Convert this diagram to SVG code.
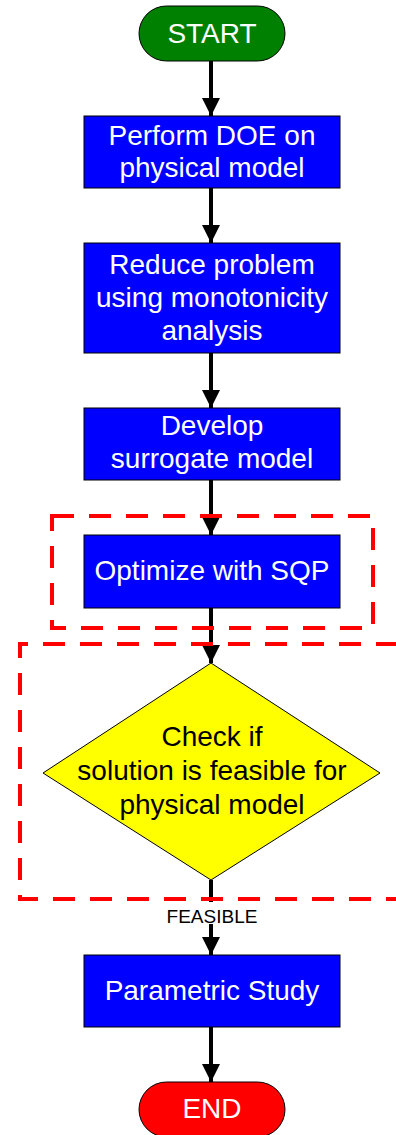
<svg xmlns="http://www.w3.org/2000/svg" width="396" height="1135" viewBox="0 0 396 1135">
  <style>
    .box { fill: #0000ff; stroke: #000; stroke-width: 1; }
    .wt { fill: #fff; font-family: "Liberation Sans", Arial, sans-serif; font-size: 28px; text-anchor: middle; }
    .bt { fill: #000; font-family: "Liberation Sans", Arial, sans-serif; font-size: 28px; text-anchor: middle; }
    .edge { stroke: #000; stroke-width: 4; fill: none; marker-end: url(#arrow); }
    .zone { fill: none; stroke: #ff0000; stroke-width: 4; stroke-dasharray: 22 15; }
  </style>
  <defs>
    <marker id="arrow" viewBox="0 0 18 18" refX="18" refY="9" markerWidth="18" markerHeight="18" markerUnits="userSpaceOnUse" orient="auto">
      <path d="M0,0 L18,9 L0,18 Z" fill="#000"/>
    </marker>
  </defs>

  <!-- connectors -->
  <g id="connectors">
    <line class="edge" x1="211" y1="61" x2="211" y2="116"/>
    <line class="edge" x1="211" y1="188" x2="211" y2="243"/>
    <line class="edge" x1="211" y1="353" x2="211" y2="408"/>
    <line class="edge" x1="211" y1="480" x2="211" y2="535"/>
    <line class="edge" x1="211" y1="608" x2="211" y2="663"/>
    <line class="edge" x1="211" y1="880" x2="211" y2="955"/>
    <line class="edge" x1="211" y1="1027" x2="211" y2="1082"/>
  </g>

  <g id="start">
    <rect x="139" y="6" width="146" height="55" rx="27.5" fill="#008000" stroke="#000" stroke-width="1"/>
    <text class="wt" x="212" y="43">START</text>
  </g>

  <g id="doe">
    <rect class="box" x="84" y="116" width="256" height="72"/>
    <text class="wt" x="212" y="145">Perform DOE on</text>
    <text class="wt" x="212" y="177">physical model</text>
  </g>

  <g id="reduce">
    <rect class="box" x="84" y="243" width="256" height="110"/>
    <text class="wt" x="212" y="274">Reduce problem</text>
    <text class="wt" x="212" y="307">using monotonicity</text>
    <text class="wt" x="212" y="340">analysis</text>
  </g>

  <g id="surrogate">
    <rect class="box" x="84" y="408" width="256" height="72"/>
    <text class="wt" x="212" y="435">Develop</text>
    <text class="wt" x="212" y="468">surrogate model</text>
  </g>

  <g id="optimize">
    <rect class="box" x="84" y="535" width="256" height="73"/>
    <text class="wt" x="212" y="580">Optimize with SQP</text>
  </g>

  <g id="check">
    <polygon points="211,663 380,773 211,880 43,773" fill="#ffff00" stroke="#000" stroke-width="1"/>
    <text class="bt" x="212" y="746">Check if</text>
    <text class="bt" x="212" y="780">solution is feasible for</text>
    <text class="bt" x="212" y="814">physical model</text>
  </g>

  <g id="feasible-label">
    <rect x="160" y="902" width="104" height="22" fill="#fff"/>
    <text x="212" y="923" font-family="Liberation Sans, Arial, sans-serif" font-size="19" text-anchor="middle">FEASIBLE</text>
  </g>

  <g id="parametric">
    <rect class="box" x="84" y="955" width="256" height="72"/>
    <text class="wt" x="212" y="1000">Parametric Study</text>
  </g>

  <g id="end">
    <rect x="139" y="1082" width="146" height="55" rx="27.5" fill="#ff0000" stroke="#000" stroke-width="1"/>
    <text class="wt" x="212" y="1118">END</text>
  </g>

  <!-- highlight zones -->
  <g id="zones">
    <rect class="zone" x="52" y="516" width="321" height="112"/>
    <path class="zone" d="M398,644 H20 V899 H398"/>
  </g>
</svg>
